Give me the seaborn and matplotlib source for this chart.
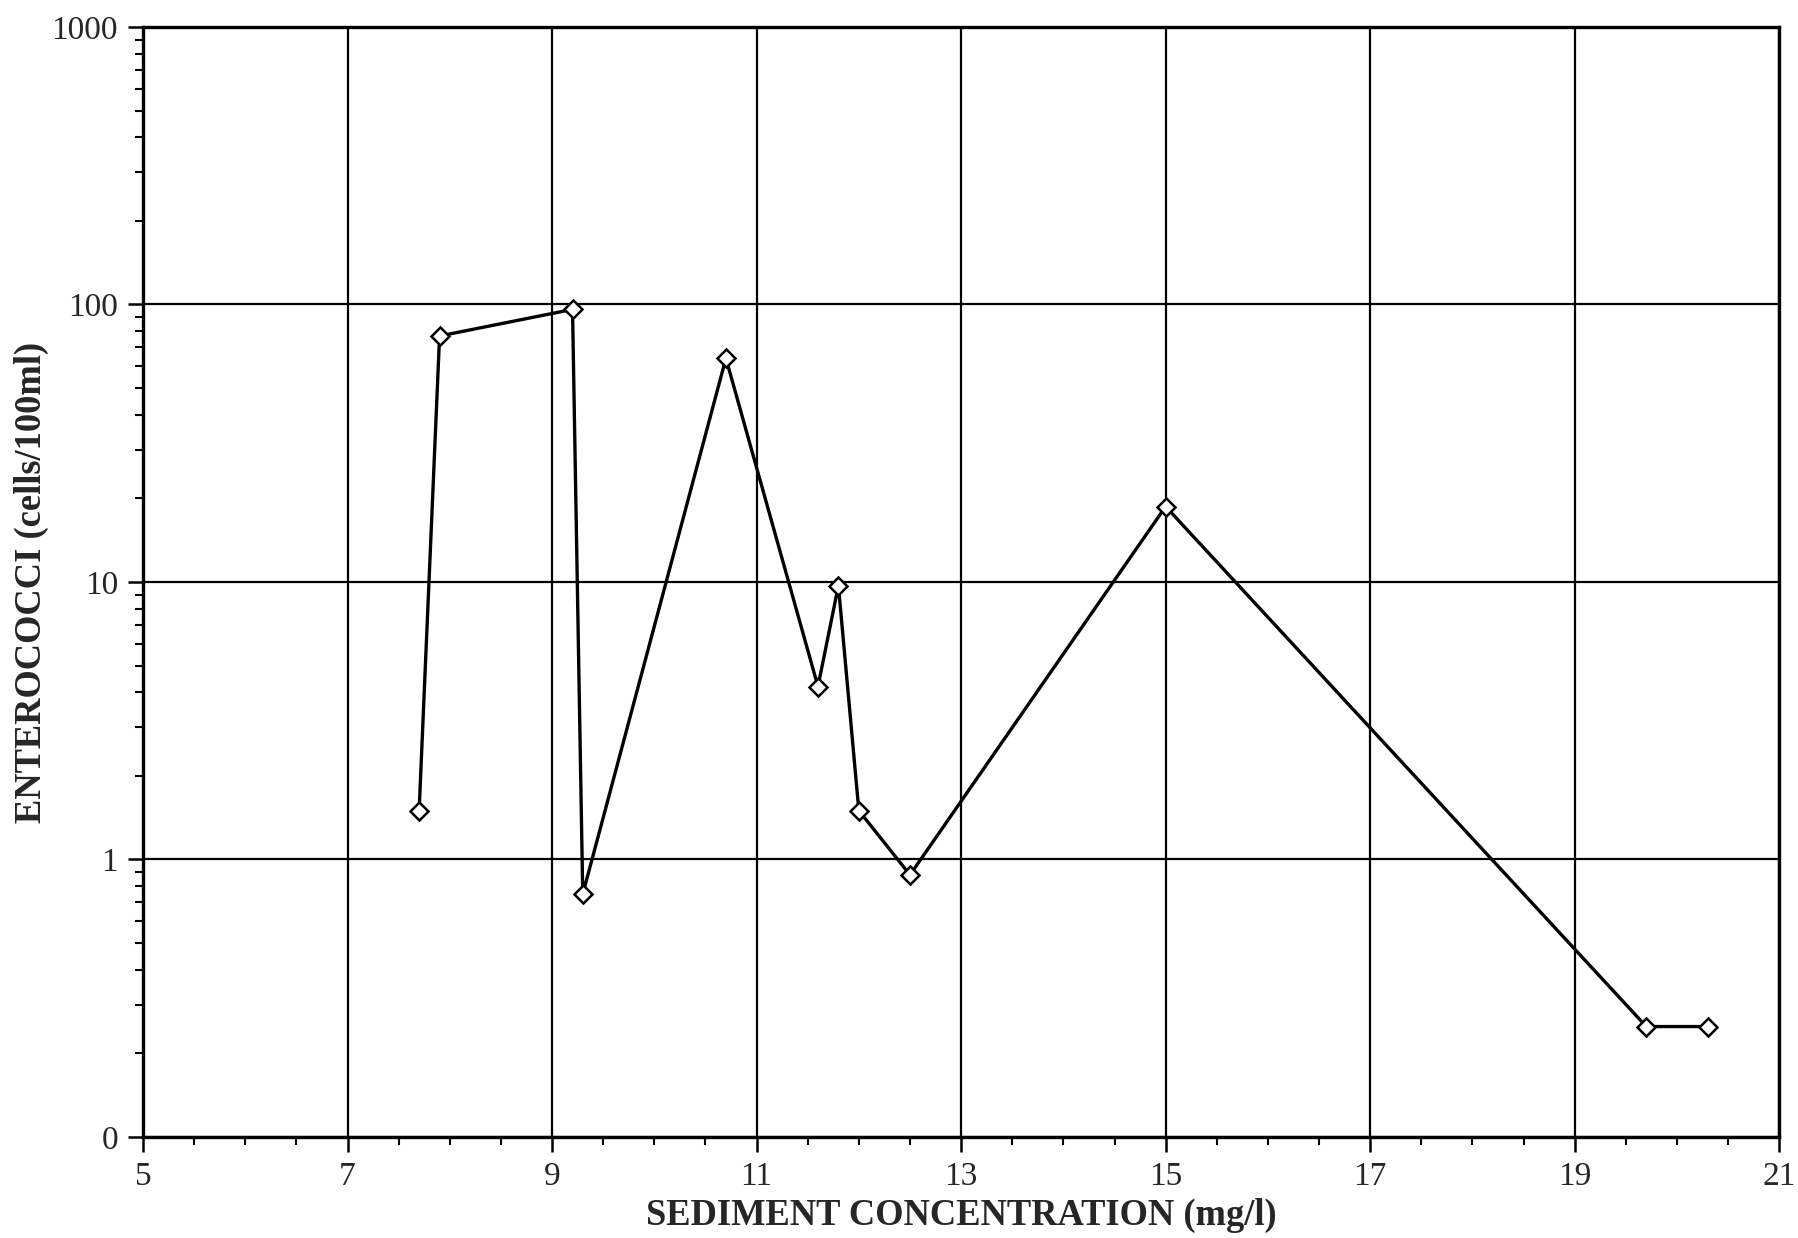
import matplotlib
matplotlib.use("Agg")
import matplotlib.pyplot as plt
import matplotlib.ticker as mticker
import numpy as np
import pandas as pd
import seaborn as sns

# Sediment concentration (mg/l) and enterococci counts (cells/100ml)
sediment = [7.7, 7.9, 9.2, 9.3, 10.7, 11.6, 11.8, 12.0, 12.5, 15.0, 19.7, 20.3]
enterococci = [1.5, 77, 96, 0.75, 64, 4.2, 9.7, 1.5, 0.88, 18.7, 0.25, 0.25]

x_ticks = [5, 7, 9, 11, 13, 15, 17, 19, 21]
y_ticks = [0.1, 1, 10, 100, 1000]
y_tick_labels = ["0", "1", "10", "100", "1000"]

df = pd.DataFrame({"sediment": sediment, "enterococci": enterococci})

sns.set_style("white")
plt.rcParams["font.family"] = ["Liberation Serif", "DejaVu Serif"]

fig = plt.figure(figsize=(17.99, 12.38), dpi=100)
ax = fig.add_axes([0.0795, 0.0816, 0.9095, 0.8966])

sns.lineplot(data=df, x="sediment", y="enterococci", ax=ax, sort=False,
             color="black", linewidth=2.4, marker="D", markersize=9,
             markerfacecolor="white", markeredgecolor="black",
             markeredgewidth=1.8, estimator=None)

ax.set_yscale("log")
ax.set_xlim(5, 21)
ax.set_ylim(0.1, 1000)

ax.xaxis.set_major_locator(mticker.FixedLocator(x_ticks))
ax.xaxis.set_minor_locator(mticker.MultipleLocator(0.5))
ax.yaxis.set_major_locator(mticker.FixedLocator(y_ticks))
ax.yaxis.set_major_formatter(mticker.FixedFormatter(y_tick_labels))
ax.yaxis.set_minor_locator(mticker.LogLocator(base=10, subs=np.arange(2, 10)))
ax.yaxis.set_minor_formatter(mticker.NullFormatter())

ax.grid(True, which="major", color="black", linewidth=1.6)
ax.set_axisbelow(True)

for side in ["left", "right", "top", "bottom"]:
    ax.spines[side].set_color("black")
    ax.spines[side].set_linewidth(2.4)

ax.tick_params(axis="both", which="both", bottom=True, left=True,
               top=False, right=False)
ax.tick_params(axis="both", which="major", direction="out", length=11,
               width=1.8, color="black", labelsize=24, pad=7)
ax.tick_params(axis="both", which="minor", direction="out", length=6,
               width=1.5, color="black")

ax.set_xlabel("SEDIMENT CONCENTRATION (mg/l)", fontsize=26.3,
              fontweight="bold", labelpad=4)
ax.set_ylabel("ENTEROCOCCI (cells/100ml)", fontsize=26.3,
              fontweight="bold", labelpad=2)

fig.savefig("out.png", dpi=100, facecolor="white")
